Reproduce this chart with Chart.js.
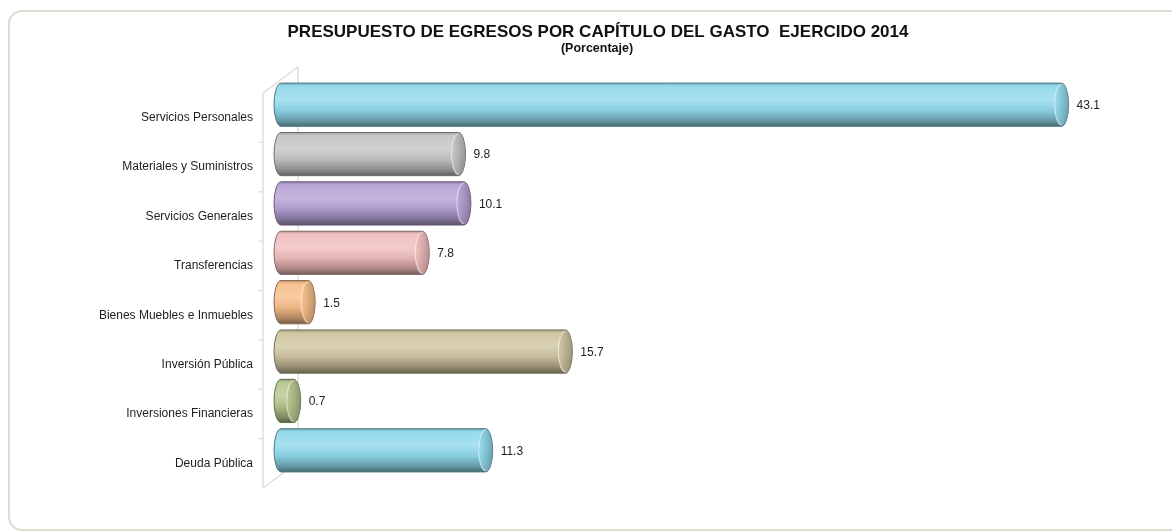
<!DOCTYPE html>
<html>
<head>
<meta charset="utf-8">
<script src="https://cdn.jsdelivr.net/npm/chart.js@4.4.1/dist/chart.umd.min.js"></script>
<style>
  html, body { margin: 0; padding: 0; background: #ffffff; overflow: hidden; }
  #frame { position: absolute; left: 8px; top: 10px; width: 1220px; height: 517px;
           border: 2px solid #dddcd0; border-radius: 14px; }
  #wrap { position: absolute; left: 0; top: 0; width: 1172px; height: 531px; }
</style>
</head>
<body>
<div id="frame"></div>
<div id="wrap"><canvas id="chart" width="1172" height="531"></canvas></div>
<script>
// Capítulos del gasto y su porcentaje del presupuesto ejercido
const categories = [
  'Servicios Personales',
  'Materiales y Suministros',
  'Servicios Generales',
  'Transferencias',
  'Bienes Muebles e Inmuebles',
  'Inversión Pública',
  'Inversiones Financieras',
  'Deuda Pública'
];
const values = [43.1, 9.8, 10.1, 7.8, 1.5, 15.7, 0.7, 11.3];
const barColors = ['#8fd8ea', '#c4c4c4', '#b5a1d5', '#f0bcbc', '#f6bd88', '#cec49f', '#b3c68d', '#8fd8ea'];
const titleText = 'PRESUPUESTO DE EGRESOS POR CAPÍTULO DEL GASTO  EJERCIDO 2014';
const subtitleText = '(Porcentaje)';

const FONT = "'Liberation Sans', Arial, sans-serif";
const DEPTH_X = 35, DEPTH_Y = -26;   // 3D wall depth offset
const LABEL_SHIFT = 13;              // front-plane labels sit below the bars

function hexToRgb(h) {
  const n = parseInt(h.slice(1), 16);
  return [(n >> 16) & 255, (n >> 8) & 255, n & 255];
}
// positive amount mixes toward white, negative toward black
function shade(hex, amt) {
  const c = hexToRgb(hex);
  const t = amt >= 0 ? 255 : 0, a = Math.abs(amt);
  const r = c.map(v => Math.round(v + (t - v) * a));
  return `rgb(${r[0]},${r[1]},${r[2]})`;
}

function drawCylinder(ctx, x0, x1, yc, h, base) {
  const ry = h / 2, rx = 7;
  const top = yc - ry, bot = yc + ry;
  const g = ctx.createLinearGradient(0, top, 0, bot);
  g.addColorStop(0, shade(base, -0.2));
  g.addColorStop(0.07, shade(base, 0.05));
  g.addColorStop(0.38, shade(base, 0.22));
  g.addColorStop(0.62, shade(base, -0.04));
  g.addColorStop(0.86, shade(base, -0.28));
  g.addColorStop(1, shade(base, -0.5));

  ctx.save();
  ctx.beginPath();
  ctx.ellipse(x0, yc, rx, ry, 0, Math.PI / 2, Math.PI * 1.5);
  ctx.lineTo(x1, top);
  ctx.ellipse(x1, yc, rx, ry, 0, -Math.PI / 2, Math.PI / 2);
  ctx.closePath();
  ctx.fillStyle = g;
  ctx.fill();
  ctx.lineWidth = 1;
  ctx.strokeStyle = shade(base, -0.45);
  ctx.stroke();

  // end face of the cylinder
  ctx.beginPath();
  ctx.ellipse(x1, yc, rx, ry - 0.5, 0, 0, Math.PI * 2);
  const gf = ctx.createLinearGradient(x1 - rx, 0, x1 + rx, 0);
  gf.addColorStop(0, shade(base, 0.05));
  gf.addColorStop(0.5, shade(base, -0.12));
  gf.addColorStop(1, shade(base, -0.3));
  ctx.fillStyle = gf;
  ctx.globalAlpha = 0.8;
  ctx.fill();
  ctx.globalAlpha = 1;
  ctx.beginPath();
  ctx.ellipse(x1, yc, rx, ry - 1.5, 0, Math.PI / 2, Math.PI * 1.5);
  ctx.strokeStyle = 'rgba(255,255,255,0.5)';
  ctx.lineWidth = 1.2;
  ctx.stroke();
  ctx.restore();
}

const decorations = {
  id: 'decorations',
  beforeDatasetsDraw(chart) {
    const ctx = chart.ctx, y = chart.scales.y, area = chart.chartArea;
    const step = y.getPixelForValue(1) - y.getPixelForValue(0);
    const fx = area.left - 18;
    const topY = y.getPixelForValue(0) + LABEL_SHIFT - step / 2;
    const botY = y.getPixelForValue(categories.length - 1) + LABEL_SHIFT + step / 2;
    ctx.save();
    ctx.strokeStyle = '#dcdcd0';
    ctx.lineWidth = 1.3;
    ctx.beginPath();
    // front wall edge
    ctx.moveTo(fx, topY); ctx.lineTo(fx, botY);
    // depth edges and back wall
    ctx.moveTo(fx, topY); ctx.lineTo(fx + DEPTH_X, topY + DEPTH_Y);
    ctx.lineTo(fx + DEPTH_X, botY + DEPTH_Y);
    ctx.moveTo(fx, botY); ctx.lineTo(fx + DEPTH_X, botY + DEPTH_Y);
    // category separators
    for (let i = 1; i < categories.length; i++) {
      const ty = topY + step * i;
      ctx.moveTo(fx - 4, ty); ctx.lineTo(fx, ty);
    }
    ctx.stroke();
    ctx.restore();
  },
  afterDatasetsDraw(chart) {
    const ctx = chart.ctx;
    const meta = chart.getDatasetMeta(0);
    meta.data.forEach((el, i) => {
      drawCylinder(ctx, el.base, el.x, el.y, el.height, barColors[i]);
    });
    ctx.save();
    ctx.fillStyle = '#1e1e1e';
    ctx.font = `12px ${FONT}`;
    ctx.textBaseline = 'middle';
    ctx.textAlign = 'left';
    meta.data.forEach((el, i) => {
      ctx.fillText(values[i].toFixed(1), el.x + 15, el.y + 1);
    });
    ctx.restore();
  },
  afterDraw(chart) {
    const ctx = chart.ctx;
    ctx.save();
    ctx.fillStyle = '#111';
    ctx.textAlign = 'center';
    ctx.textBaseline = 'middle';
    ctx.font = `bold 17px ${FONT}`;
    ctx.fillText(titleText, 598, 32);
    ctx.font = `bold 12.5px ${FONT}`;
    ctx.fillText(subtitleText, 597, 49);
    ctx.restore();
  }
};

new Chart(document.getElementById('chart'), {
  type: 'bar',
  data: {
    labels: categories,
    datasets: [{
      data: values,
      backgroundColor: 'rgba(0,0,0,0)',
      borderWidth: 0,
      categoryPercentage: 1,
      barPercentage: 0.875
    }]
  },
  options: {
    indexAxis: 'y',
    responsive: false,
    animation: false,
    layout: { padding: { left: 0, right: 76, top: 80, bottom: 56 } },
    plugins: { legend: { display: false }, tooltip: { enabled: false } },
    scales: {
      x: { min: 0, max: 45, display: false },
      y: {
        grid: { display: false, drawTicks: false },
        border: { display: false },
        ticks: {
          color: '#1e1e1e',
          font: { family: FONT, size: 12 },
          padding: 28,
          labelOffset: LABEL_SHIFT
        },
        afterFit(scale) { scale.width = 281; }
      }
    }
  },
  plugins: [decorations]
});
</script>
</body>
</html>
